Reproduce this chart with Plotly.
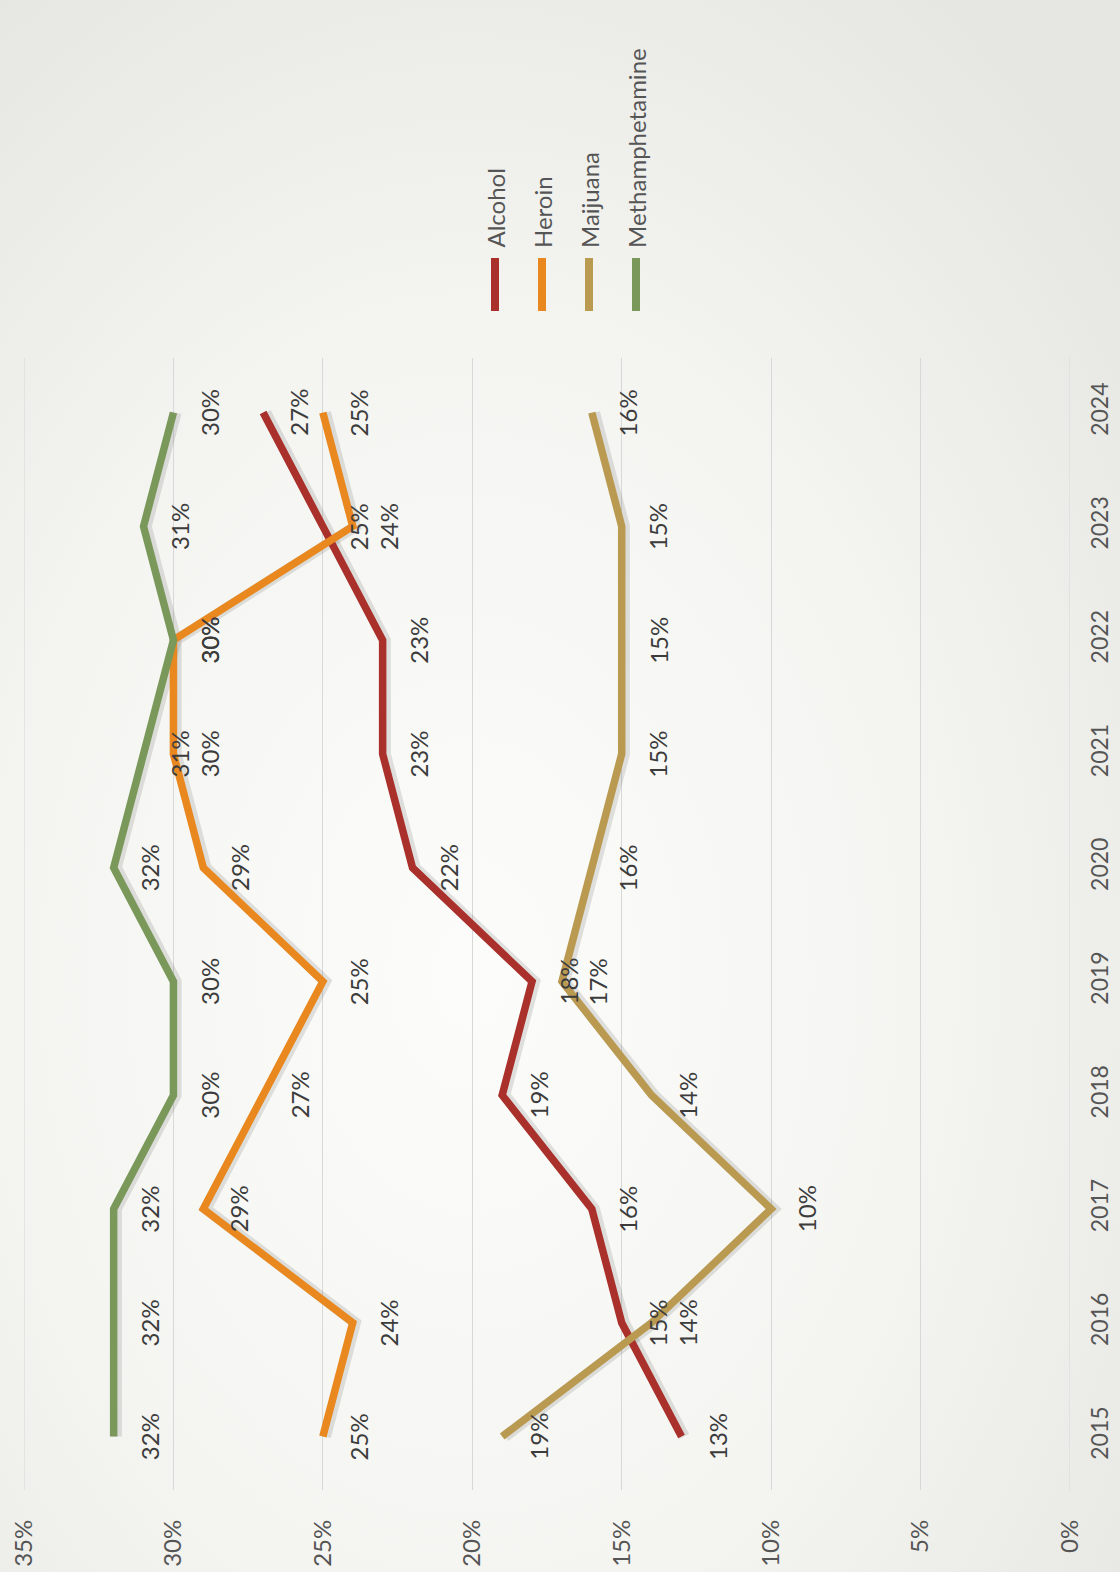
import base64
import plotly.graph_objects as go

# Share of admissions by primary substance, 2015-2024
years = [2015, 2016, 2017, 2018, 2019, 2020, 2021, 2022, 2023, 2024]
alcohol = [13, 15, 16, 19, 18, 22, 23, 23, 25, 27]
heroin = [25, 24, 29, 27, 25, 29, 30, 30, 24, 25]
marijuana = [19, 14, 10, 14, 17, 16, 15, 15, 15, 16]
meth = [32, 32, 32, 30, 30, 32, 31, 30, 31, 30]

series_names = ["Alcohol", "Heroin", "Maijuana", "Methamphetamine"]
series_values = [alcohol, heroin, marijuana, meth]
series_colors = ["#a9302b", "#e8881f", "#b99a50", "#79985a"]

pct_ticks = [0, 5, 10, 15, 20, 25, 30, 35]

FONT = "Lato, 'Open Sans', sans-serif"
W, H = 1120, 1572
ML, MR, MT, MB = 24, 50, 358, 82
plot_w = W - ML - MR
plot_h = H - MT - MB


def px_x(px):
    return (px - ML) / plot_w


def px_y(py):
    return (H - MB - py) / plot_h


fig = go.Figure()

# soft drop shadow under each line, then the line itself
for name, vals, col in zip(series_names, series_values, series_colors):
    fig.add_trace(go.Scatter(
        x=[v - 0.09 for v in vals], y=years, mode="lines",
        line=dict(color="rgba(70,70,70,0.15)", width=11),
        hoverinfo="skip", showlegend=False))
for name, vals, col in zip(series_names, series_values, series_colors):
    fig.add_trace(go.Scatter(
        x=vals, y=years, mode="lines", name=name,
        line=dict(color=col, width=7.5), showlegend=False))

# value labels beside each point (rotated with the chart)
for vals in series_values:
    for yr, v in zip(years, vals):
        fig.add_annotation(
            x=v, y=yr, xref="x", yref="y", text=f"{v}%", showarrow=False,
            textangle=-90, xshift=36,
            font=dict(family=FONT, size=24, color="#3c3c3c"))

# gridlines at the two ends of the percentage range
for edge in (pct_ticks[0], pct_ticks[-1]):
    fig.add_shape(type="line", xref="x", yref="paper", x0=edge, x1=edge,
                  y0=0, y1=1, line=dict(color="#d6d6d8", width=1),
                  layer="below")

# legend: rotated labels with short colour swatches
leg_px = [495, 542, 589, 636]
for name, col, lx in zip(series_names, series_colors, leg_px):
    fig.add_shape(type="line", xref="paper", yref="paper",
                  x0=px_x(lx), x1=px_x(lx), y0=px_y(258), y1=px_y(311),
                  line=dict(color=col, width=8))
    fig.add_annotation(
        x=px_x(lx), y=px_y(250), xref="paper", yref="paper", text=name,
        showarrow=False, textangle=-90, xanchor="center", yanchor="bottom",
        font=dict(family=FONT, size=24, color="#555555"))

# paper background with a gentle vignette
svg = (
    f'<svg xmlns="http://www.w3.org/2000/svg" width="{W}" height="{H}">'
    '<defs><radialGradient id="g" cx="0.42" cy="0.62" r="0.75">'
    '<stop offset="0" stop-color="#fcfcfa"/>'
    '<stop offset="0.55" stop-color="#f4f4f1"/>'
    '<stop offset="1" stop-color="#e6e7e2"/>'
    '</radialGradient></defs>'
    f'<rect width="{W}" height="{H}" fill="url(#g)"/></svg>'
)
bg_src = "data:image/svg+xml;base64," + base64.b64encode(svg.encode()).decode()
fig.add_layout_image(
    source=bg_src, xref="paper", yref="paper",
    x=px_x(0), y=px_y(0), sizex=W / plot_w, sizey=H / plot_h,
    xanchor="left", yanchor="top", sizing="stretch", layer="below")

fig.update_layout(
    width=W, height=H,
    margin=dict(l=ML, r=MR, t=MT, b=MB),
    paper_bgcolor="#e9eae5",
    plot_bgcolor="rgba(0,0,0,0)",
    font=dict(family=FONT, size=24, color="#555555"),
    showlegend=False,
    xaxis=dict(
        range=[35, 0], tickvals=pct_ticks,
        ticktext=[f"{t}%" for t in pct_ticks],
        tickangle=-90, showgrid=True, gridcolor="#d8d8d8", gridwidth=1,
        zeroline=False, showline=False, ticks="", automargin=False,
        ticklabelstandoff=24,
        tickfont=dict(family=FONT, size=24, color="#555555")),
    yaxis=dict(
        range=[2014.53, 2024.48], tickvals=years,
        ticktext=[str(y) for y in years],
        side="right", tickangle=-90, showgrid=False, zeroline=False,
        showline=False, ticks="", ticklabelstandoff=14, automargin=False,
        tickfont=dict(family=FONT, size=23, color="#555555")),
)

fig.write_html("out.html")
